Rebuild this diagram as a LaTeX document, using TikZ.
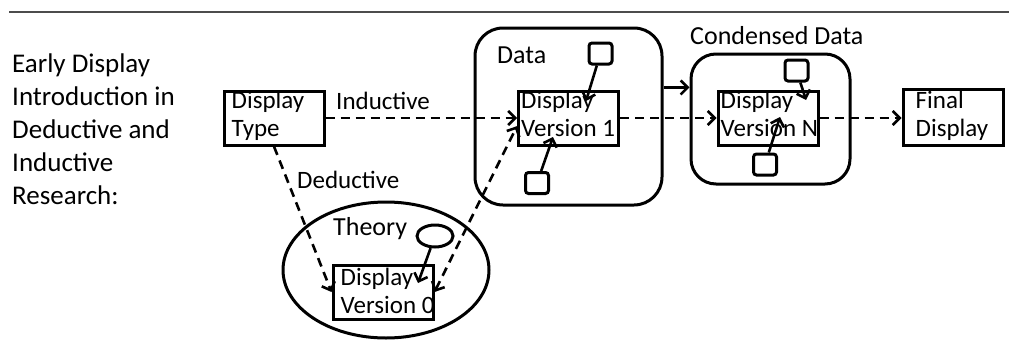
\documentclass[tikz,border=0pt]{standalone}
\usepackage{fontspec}
\setmainfont{Carlito}
\usetikzlibrary{arrows.meta,shapes.geometric}
\tikzset{
  barb/.tip={Straight Barb[length=7pt,width=14pt]},
  disp/.style={draw, line width=3pt, minimum width=100pt, minimum height=54pt, inner sep=0pt},
  grp/.style={draw, line width=3pt, rounded corners=28pt, inner sep=0pt},
  sq/.style={draw, line width=3pt, rounded corners=3pt, minimum width=23pt, minimum height=21pt, inner sep=0pt},
  oval/.style={draw, ellipse, line width=3pt, inner sep=0pt},
  txt/.style={font=\fontsize{25}{28}\selectfont, align=left, inner sep=0pt},
  big/.style={font=\fontsize{26}{31}\selectfont, inner sep=0pt},
  dsh/.style={line width=2.6pt, dash pattern=on 9pt off 6pt, -barb},
  sld/.style={line width=2.6pt, -barb},
}
\begin{document}
\begin{tikzpicture}[x=1pt,y=-1pt]
  \useasboundingbox (0,0) rectangle (1009,340);
  \draw[line width=1.5pt, black!70] (9,12) -- (1009,12);
  \node[font=\fontsize{27}{33}\selectfont, align=left, inner sep=0pt, anchor=north west] (intro) at (12,54) {Early Display\\Introduction in\\Deductive and\\Inductive\\Research:};

  % groups
  \node[grp, minimum width=187pt, minimum height=177pt] (data) at (568.5,116.5) {};
  \node[grp, rounded corners=25pt, minimum width=159pt, minimum height=130pt] (cdata) at (770.5,119) {};
  \node[oval, minimum width=206pt, minimum height=136pt] (theory) at (386,270) {};
  \node[big, anchor=base west] (datalbl) at (497,63) {Data};
  \node[big, anchor=base west] (cdatalbl) at (690,44) {Condensed Data};
  \node[big, anchor=base west] (theorylbl) at (333,235) {Theory};

  % displays
  \node[disp] (dtype) at (274,118) {};
  \node[disp] (dv1) at (568.5,118) {};
  \node[disp] (dvn) at (768,118) {};
  \node[disp] (dv0) at (383,292) {};
  \node[disp, minimum height=56pt] (final) at (953,117) {};
  \node[txt, anchor=base west] (dtypetxt) at ([shift={(9,47)}]dtype.north west) {Display\\Type};
  \node[txt, anchor=base west] (dv1txt) at ([shift={(4,47)}]dv1.north west) {Display\\Version 1};
  \node[txt, anchor=base west] (dvntxt) at ([shift={(4,47)}]dvn.north west) {Display\\Version N};
  \node[txt, anchor=base west] (dv0txt) at ([shift={(9,50)}]dv0.north west) {Display\\Version 0};
  \node[txt, anchor=base west] (finaltxt) at ([shift={(14,49)}]final.north west) {Final\\Display};

  % small items
  \node[sq] (sq1) at (600.5,53.5) {};
  \node[sq] (sq2) at (537,183) {};
  \node[sq] (sq3) at (796.5,70.5) {};
  \node[sq] (sq4) at (765,164.5) {};
  \node[oval, minimum width=36pt, minimum height=22pt] (ov1) at (435,236) {};
  \coordinate (e1) at ([shift={(17.5,-17)}]dv1.center);
  \coordinate (e2) at ([shift={(-15.5,19)}]dv1.center);
  \coordinate (e3) at ([shift={(38,-18)}]dvn.center);
  \coordinate (e4) at ([shift={(12,-1)}]dvn.center);
  \coordinate (e5) at ([shift={(35,-9)}]dv0.center);

  % edge labels
  \node[txt, anchor=base west] (indlbl) at (336,109) {Inductive};
  \node[txt, anchor=base west] (dedlbl) at (297,188) {Deductive};

  % connectors
  \draw[dsh] (dtype) -- (dv1);
  \draw[dsh] (dv1) -- (dvn);
  \draw[dsh] (dvn.east) -- (dvn.east -| final.west);
  \draw[dsh] (dtype.south) -- (dv0.west);
  \draw[dsh, barb-barb] (dv0.east) -- (dv1.189);
  \draw[sld] (data.17.5) -- (data.17.5 -| cdata.west);
  \draw[sld] (sq1) -- (e1);
  \draw[sld] (sq2) -- (e2);
  \draw[sld] (sq3) -- (e3);
  \draw[sld] (sq4) -- (e4);
  \draw[sld] (ov1) -- (e5);
\end{tikzpicture}
\end{document}
